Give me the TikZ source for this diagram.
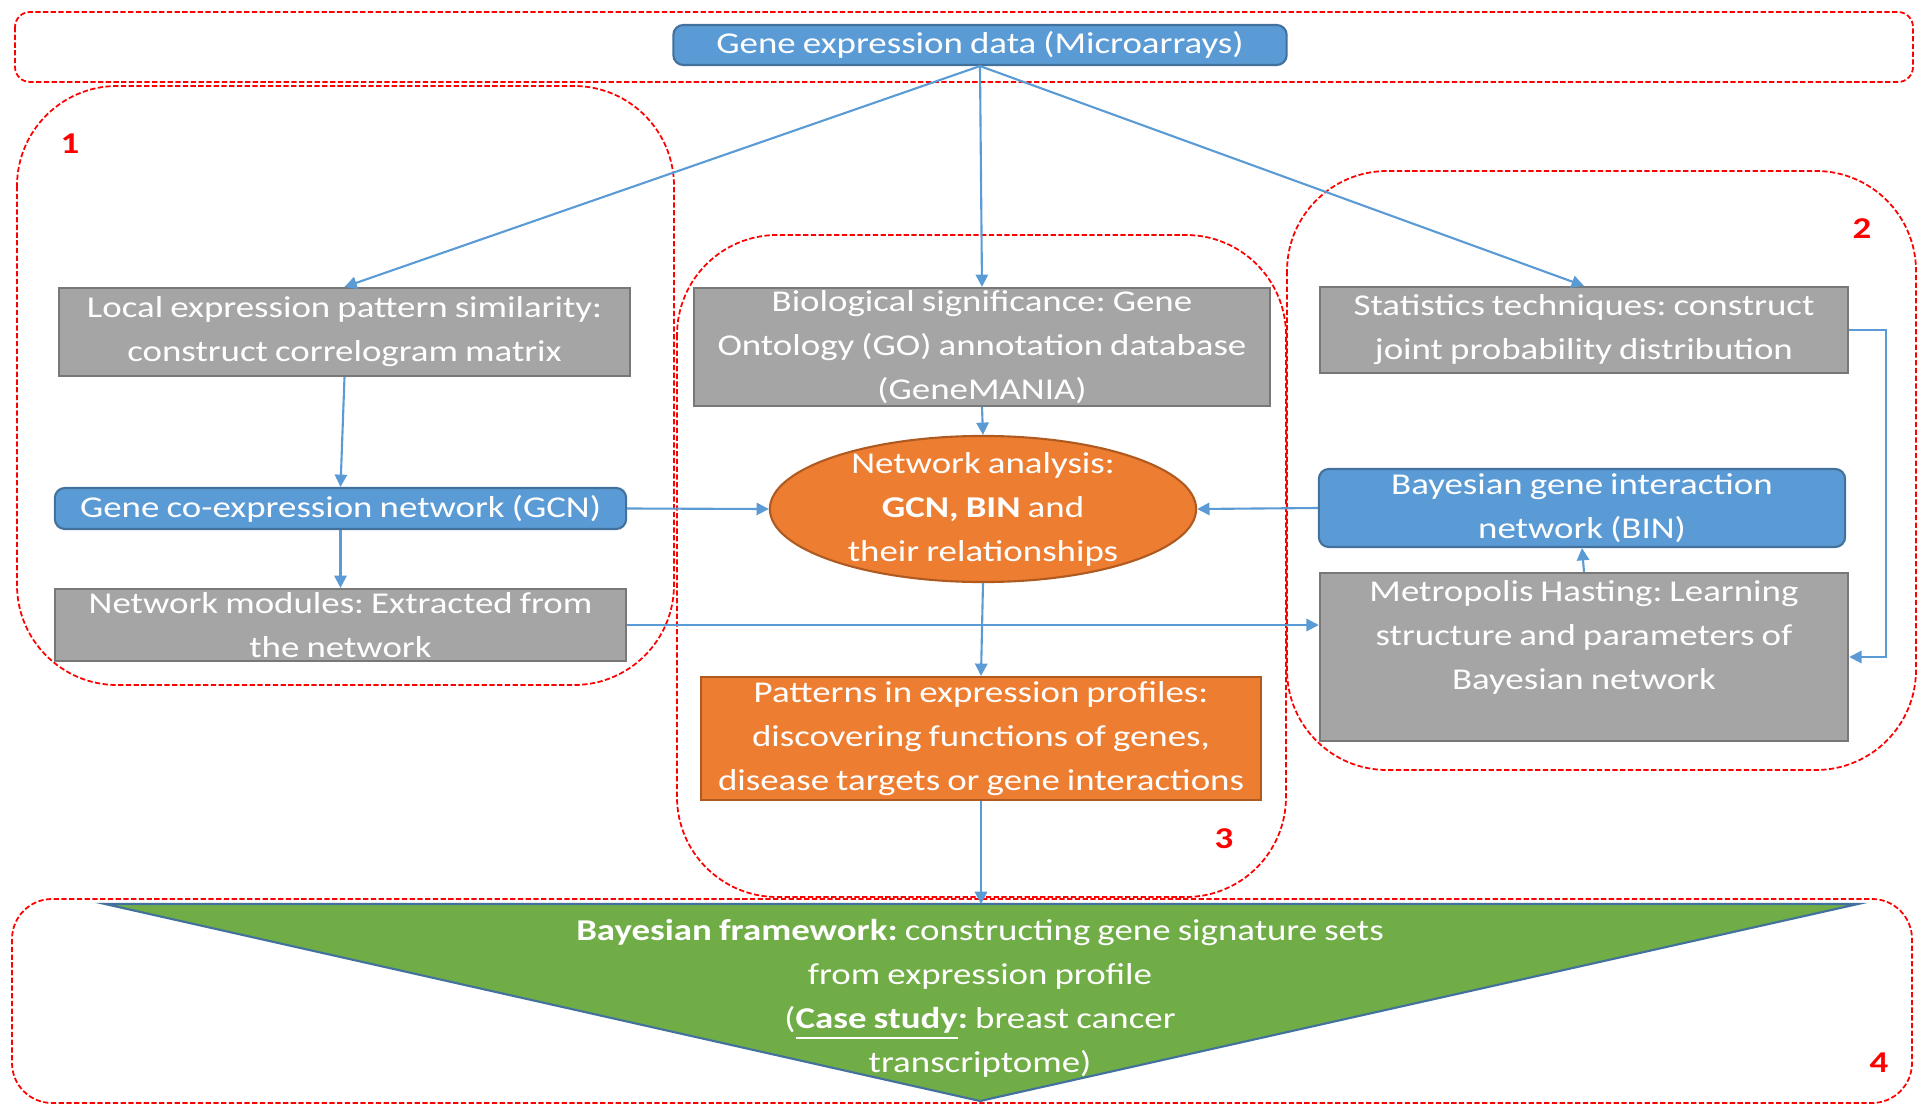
\documentclass[tikz,border=0pt]{standalone}
\usepackage{fontspec}
\setmainfont{Carlito}[FakeStretch=1.22,WordSpace=0.85]
\usetikzlibrary{arrows.meta,shapes.geometric,positioning}
\definecolor{boxblue}{RGB}{91,155,213}
\definecolor{boxblueline}{RGB}{65,113,156}
\definecolor{boxgray}{RGB}{165,165,165}
\definecolor{boxgrayline}{RGB}{120,120,120}
\definecolor{boxorange}{RGB}{237,125,49}
\definecolor{boxorangeline}{RGB}{174,90,33}
\definecolor{boxgreen}{RGB}{112,173,71}
\newcommand{\boxfont}{\fontsize{8.6pt}{12.5pt}\selectfont}
\frenchspacing

\begin{document}
\begin{tikzpicture}[x=0.01cm,y=-0.01cm,
  every node/.style={font=\boxfont,text=white,align=center},
  grouprim/.style={draw=red,line width=0.5pt,dash pattern=on 1.5pt off 0.7pt},
  bluebox/.style={rectangle,draw=boxblueline,fill=boxblue,rounded corners=1mm,inner ysep=0pt,line width=0.6pt},
  graybox/.style={rectangle,draw=boxgrayline,fill=boxgray,inner ysep=0pt,line width=0.6pt},
  orangebox/.style={rectangle,draw=boxorangeline,fill=boxorange,inner ysep=0pt,line width=0.6pt},
  flow/.style={draw=boxblue,line width=0.6pt,-{Triangle[length=3.5pt,width=3.5pt]}},
  grouplabel/.style={text=red,font=\boxfont\bfseries}]
\useasboundingbox (0,0) rectangle (1929,1118);

\draw[grouprim,rounded corners=1.5mm] (15,12) rectangle (1913,82);
\draw[grouprim,rounded corners=1cm] (17,86) rectangle (674,685);
\draw[grouprim,rounded corners=1cm] (677,235) rectangle (1286,897);
\draw[grouprim,rounded corners=1cm] (1287,171) rectangle (1916,770);
\draw[grouprim,rounded corners=4mm] (12,899) rectangle (1912,1103);

\coordinate (gleft) at (105,904);
\coordinate (gright) at (1858,904);
\coordinate (gtip) at (980,1101);
\filldraw[fill=boxgreen,draw=boxblueline,line width=0.6pt] (gleft) -- (gright) -- (gtip) -- cycle;
\node (bframe) at (980,998) {\textbf{Bayesian framework:} constructing gene signature sets\\from expression profile\\(\underline{\textbf{Case study}}\textbf{:} breast cancer\\transcriptome)};

\node[grouplabel] (lab1) at (70,144) {1};
\node[grouplabel] (lab2) at (1862,229) {2};
\node[grouplabel] (lab3) at (1224,839) {3};
\node[grouplabel] (lab4) at (1879,1063) {4};

\node[bluebox,minimum width=6.13cm,minimum height=0.40cm] (gexp) at (980,45) {Gene expression data (Microarrays)};

\node[graybox,minimum width=5.71cm,minimum height=0.88cm] (lesim) at (344.5,332) {Local expression pattern similarity:\\construct correlogram matrix};
\node[bluebox,minimum width=5.71cm,minimum height=0.41cm] (gcn) at (340.5,508.5) {Gene co-expression network (GCN)};
\node[graybox,minimum width=5.71cm,minimum height=0.72cm] (modules) at (340.5,625) {Network modules: Extracted from\\the network};

\node[graybox,minimum width=5.75cm,minimum height=1.18cm] (biosig) at (982,347) {Biological significance: Gene\\Ontology (GO) annotation database\\(GeneMANIA)};
\node[ellipse,fill=boxorange,draw=boxorangeline,line width=0.6pt,minimum width=4.26cm,minimum height=1.46cm,inner xsep=0pt,inner ysep=-2pt] (netan) at (983,509) {Network analysis:\\\textbf{GCN, BIN} and\\their relationships};
\node[orangebox,minimum width=5.60cm,minimum height=1.23cm] (patterns) at (981,738.5) {Patterns in expression profiles:\\discovering functions of genes,\\disease targets or gene interactions};

\node[graybox,minimum width=5.28cm,minimum height=0.86cm] (stats) at (1584,330) {Statistics techniques: construct\\joint probability distribution};
\node[bluebox,minimum width=5.26cm,minimum height=0.78cm] (bin) at (1582,508) {Bayesian gene interaction\\network (BIN)};
\node[graybox,minimum width=5.28cm,minimum height=1.68cm] (metro) at (1584,657) {Metropolis Hasting: Learning\\structure and parameters of\\Bayesian network\\\mbox{}};

\draw[flow] (gexp.south) -- (lesim.north);
\draw[flow] (gexp.south) -- (biosig.north);
\draw[flow] (gexp.south) -- (stats.north);
\draw[flow] (lesim.south) -- (gcn.north);
\draw[flow] (gcn.south) -- (modules.north);
\draw[flow] (gcn.east) -- (netan.west);
\draw[flow] (bin.west) -- (netan.east);
\draw[flow] (biosig.south) -- (netan.north);
\draw[flow] (netan.south) -- (patterns.north);
\draw[flow] (modules.east) -- (modules.east -| metro.west);
\draw[flow] (stats.east) -- ++(37,0) |- (metro.east);
\draw[flow] (metro.north) -- (bin.south);
\draw[flow] (patterns.south) -- (patterns.south |- gleft);

\end{tikzpicture}
\end{document}
